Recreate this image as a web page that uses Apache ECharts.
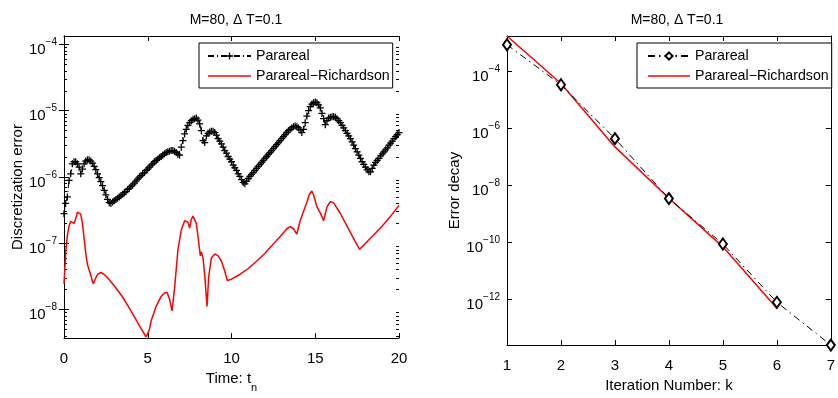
<!DOCTYPE html>
<html><head><meta charset="utf-8">
<script src="https://cdn.jsdelivr.net/npm/echarts@6/dist/echarts.min.js"></script>
<style>html,body{margin:0;padding:0;background:#fff;}#c{width:838px;height:398px;}</style>
</head><body><div id="c"></div>
<script>
// ---------- data ----------
const chartTitle = 'M=80, \u0394 T=0.1';
const seriesNames = ['Parareal', 'Parareal\u2212Richardson'];

// left: time grid t_n (step 0.1)
const time = [
  0,0.1,0.2,0.3,0.4,0.5,0.6,0.7,0.8,0.9,
  1,1.1,1.2,1.3,1.4,1.5,1.6,1.7,1.8,1.9,
  2,2.1,2.2,2.3,2.4,2.5,2.6,2.7,2.8,2.9,
  3,3.1,3.2,3.3,3.4,3.5,3.6,3.7,3.8,3.9,
  4,4.1,4.2,4.3,4.4,4.5,4.6,4.7,4.8,4.9,
  5,5.1,5.2,5.3,5.4,5.5,5.6,5.7,5.8,5.9,
  6,6.1,6.2,6.3,6.4,6.5,6.6,6.7,6.8,6.9,
  7,7.1,7.2,7.3,7.4,7.5,7.6,7.7,7.8,7.9,
  8,8.1,8.2,8.3,8.4,8.5,8.6,8.7,8.8,8.9,
  9,9.1,9.2,9.3,9.4,9.5,9.6,9.7,9.8,9.9,
  10,10.1,10.2,10.3,10.4,10.5,10.6,10.7,10.8,10.9,
  11,11.1,11.2,11.3,11.4,11.5,11.6,11.7,11.8,11.9,
  12,12.1,12.2,12.3,12.4,12.5,12.6,12.7,12.8,12.9,
  13,13.1,13.2,13.3,13.4,13.5,13.6,13.7,13.8,13.9,
  14,14.1,14.2,14.3,14.4,14.5,14.6,14.7,14.8,14.9,
  15,15.1,15.2,15.3,15.4,15.5,15.6,15.7,15.8,15.9,
  16,16.1,16.2,16.3,16.4,16.5,16.6,16.7,16.8,16.9,
  17,17.1,17.2,17.3,17.4,17.5,17.6,17.7,17.8,17.9,
  18,18.1,18.2,18.3,18.4,18.5,18.6,18.7,18.8,18.9,
  19,19.1,19.2,19.3,19.4,19.5,19.6,19.7,19.8,19.9,
  20
];
// left: Parareal discretization error at each t_n
const pararealError = [
  2.8e-7,4.0e-7,5.0e-7,8.9e-7,1.12e-6,1.58e-6,1.70e-6,1.70e-6,1.58e-6,1.41e-6,
  1.12e-6,1.32e-6,1.58e-6,1.74e-6,1.82e-6,1.82e-6,1.74e-6,1.62e-6,1.45e-6,1.29e-6,
  1.12e-6,9.8e-7,8.5e-7,7.4e-7,6.3e-7,5.4e-7,4.6e-7,4.1e-7,4.0e-7,4.2e-7,
  4.4e-7,4.6e-7,4.8e-7,5.0e-7,5.2e-7,5.5e-7,5.8e-7,6.0e-7,6.5e-7,6.8e-7,
  7.2e-7,7.6e-7,8.1e-7,8.7e-7,9.3e-7,1.0e-6,1.05e-6,1.12e-6,1.17e-6,1.26e-6,
  1.32e-6,1.41e-6,1.51e-6,1.58e-6,1.70e-6,1.78e-6,1.86e-6,1.95e-6,2.04e-6,2.14e-6,
  2.24e-6,2.34e-6,2.40e-6,2.45e-6,2.51e-6,2.51e-6,2.45e-6,2.34e-6,2.19e-6,2.14e-6,
  2.82e-6,3.55e-6,4.47e-6,5.25e-6,6.03e-6,6.61e-6,7.08e-6,7.41e-6,7.59e-6,7.76e-6,
  7.24e-6,6.31e-6,5.01e-6,3.55e-6,3.31e-6,4.17e-6,4.57e-6,4.79e-6,4.90e-6,4.90e-6,
  4.68e-6,4.27e-6,3.80e-6,3.47e-6,3.16e-6,2.82e-6,2.51e-6,2.29e-6,2.04e-6,1.86e-6,
  1.70e-6,1.51e-6,1.38e-6,1.26e-6,1.12e-6,1.02e-6,9.1e-7,8.3e-7,7.9e-7,8.7e-7,
  9.5e-7,1.02e-6,1.10e-6,1.17e-6,1.26e-6,1.35e-6,1.45e-6,1.55e-6,1.66e-6,1.78e-6,
  1.91e-6,2.04e-6,2.19e-6,2.34e-6,2.51e-6,2.69e-6,2.88e-6,3.09e-6,3.31e-6,3.55e-6,
  3.80e-6,4.07e-6,4.37e-6,4.68e-6,5.01e-6,5.25e-6,5.50e-6,5.75e-6,5.89e-6,5.75e-6,
  5.50e-6,5.13e-6,4.68e-6,5.25e-6,6.61e-6,8.32e-6,1.0e-5,1.15e-5,1.26e-5,1.32e-5,
  1.35e-5,1.32e-5,1.23e-5,1.10e-5,9.12e-6,7.59e-6,6.17e-6,7.08e-6,7.76e-6,7.94e-6,
  8.13e-6,8.13e-6,7.94e-6,7.59e-6,7.08e-6,6.61e-6,6.03e-6,5.50e-6,5.01e-6,4.57e-6,
  4.17e-6,3.80e-6,3.39e-6,3.02e-6,2.69e-6,2.40e-6,2.14e-6,1.91e-6,1.70e-6,1.55e-6,
  1.41e-6,1.29e-6,1.20e-6,1.20e-6,1.35e-6,1.51e-6,1.66e-6,1.78e-6,1.91e-6,2.09e-6,
  2.24e-6,2.40e-6,2.57e-6,2.75e-6,3.02e-6,3.24e-6,3.47e-6,3.80e-6,4.07e-6,4.37e-6,
  4.68e-6
];
// left: Parareal-Richardson discretization error (read at curve features)
const richTime = [
  0,0.1,0.2,0.3,0.4,0.5,0.6,0.7,0.8,0.9,1.0,1.1,1.2,1.3,1.4,1.5,1.6,1.7,1.75,1.8,1.9,2.0,2.2,2.4,2.6,
  3.0,3.5,4.0,4.5,4.9,5.0,5.1,5.2,5.5,5.8,6.0,6.15,6.3,6.45,6.6,6.8,7.0,7.2,7.3,7.4,7.5,7.6,7.7,7.8,7.9,
  8.0,8.14,8.2,8.3,8.4,8.54,8.64,8.8,9.0,9.2,9.4,9.6,9.75,10.0,10.5,11.0,11.5,12.0,12.5,13.0,13.3,13.5,
  13.7,13.9,14.1,14.3,14.5,14.65,14.8,14.9,15.1,15.3,15.5,15.7,15.9,16.1,16.5,17.0,17.4,17.65,18.0,
  18.5,19.0,19.5,20.0
];
const richError = [
  2.45e-8,7.08e-8,1.32e-7,1.82e-7,2.14e-7,2.29e-7,2.0e-7,2.34e-7,2.95e-7,3.16e-7,2.75e-7,2.0e-7,1.20e-7,
  7.08e-8,4.79e-8,3.98e-8,3.31e-8,2.63e-8,2.45e-8,2.57e-8,3.02e-8,3.39e-8,3.63e-8,3.39e-8,3.02e-8,
  2.29e-8,1.55e-8,9.55e-9,5.75e-9,3.89e-9,3.72e-9,5.01e-9,6.76e-9,1.12e-8,1.58e-8,1.78e-8,1.82e-8,1.45e-8,
  9.55e-9,2.09e-8,7.94e-8,1.58e-7,2.19e-7,2.34e-7,2.09e-7,1.70e-7,2.29e-7,2.57e-7,2.40e-7,2.0e-7,
  1.26e-7,6.46e-8,7.41e-8,6.03e-8,3.31e-8,1.12e-8,3.16e-8,6.03e-8,6.92e-8,6.46e-8,5.37e-8,3.80e-8,2.75e-8,
  2.88e-8,3.39e-8,4.17e-8,5.37e-8,7.08e-8,9.77e-8,1.35e-7,1.66e-7,1.78e-7,
  1.66e-7,1.38e-7,2.19e-7,3.02e-7,4.17e-7,5.50e-7,6.17e-7,5.37e-7,3.55e-7,2.88e-7,2.19e-7,3.55e-7,4.27e-7,
  4.07e-7,2.82e-7,1.62e-7,1.05e-7,8.13e-8,1.0e-7,
  1.35e-7,1.82e-7,2.57e-7,3.72e-7
];
// right: error decay vs iteration number k
const iterations = [1, 2, 3, 4, 5, 6, 7];
const pararealDecay = [8.3e-4, 3.3e-5, 4.27e-7, 3.39e-9, 8.7e-11, 7.9e-13, 2.5e-14];
const richardsonDecay = [1.68e-3, 3.63e-5, 2.19e-7, 3.47e-9, 6.92e-11, 4.9e-13];

// axis ranges and tick values
const leftX = [0, 20, 5];
const leftY = [3.72e-9, 1.34e-4];
const rightX = [1, 7, 1];
const rightY = [2.5e-14, 1.68e-3];
const leftYTicks = [1e-8, 1e-7, 1e-6, 1e-5, 1e-4];
const rightYTicks = [1e-12, 1e-10, 1e-8, 1e-6, 1e-4];
// left log axis minor ticks (MATLAB style 2..9 x 10^n)
const minorFactors = [2, 3, 4, 5, 6, 7, 8, 9];
const minorDecades = [-9, -8, -7, -6, -5, -4];

// ---------- chart ----------
const FONT = '"Liberation Sans", Arial, Helvetica, sans-serif';
const FS = 15;
const LFS = 14.2;
const pairs = (xs, ys) => ys.map((y, i) => [xs[i], y]);

const leftMinor = [];
minorDecades.forEach(d => minorFactors.forEach(f => {
  const v = f * Math.pow(10, d);
  if (v > leftY[0] && v < leftY[1]) leftMinor.push(v);
}));

function logLabel(v) {
  const r = Math.round(Math.log10(v));
  return '{b|10}{s|' + (r < 0 ? '\u2212' : '') + Math.abs(r) + '}';
}
const logRich = {
  b: { fontSize: FS, fontFamily: FONT, color: '#000', lineHeight: 14, padding: [5, 0, 5, 0], verticalAlign: 'top' },
  s: { fontSize: 10, fontFamily: FONT, color: '#000', lineHeight: 10, padding: [0, 0, 14, 0], verticalAlign: 'top' }
};
const axisLineStyle = { show: true, lineStyle: { color: '#000', width: 1 } };
const tickIn = { show: true, inside: true, length: 5, lineStyle: { color: '#000', width: 1 } };

function xAx(grid, rng, pos, withLabel, name, gap, rich) {
  return {
    type: 'value', gridIndex: grid, min: rng[0], max: rng[1], interval: rng[2], position: pos,
    axisLine: axisLineStyle, axisTick: tickIn, splitLine: { show: false },
    axisLabel: { show: withLabel, fontSize: FS, fontFamily: FONT, color: '#000', margin: 13 },
    name: withLabel ? name : '', nameLocation: 'middle', nameGap: gap,
    nameTextStyle: { fontSize: FS, fontFamily: FONT, color: '#000', rich: rich }
  };
}
function yAx(grid, rng, ticks, pos, withLabel, name, gap) {
  return {
    type: 'log', logBase: 10, gridIndex: grid, min: rng[0], max: rng[1], position: pos,
    axisLine: axisLineStyle, splitLine: { show: false }, minorTick: { show: false },
    axisTick: Object.assign({}, tickIn, { customValues: ticks }),
    axisLabel: { show: withLabel, customValues: ticks, formatter: logLabel, rich: logRich, margin: 7 },
    name: withLabel ? name : '', nameLocation: 'middle', nameGap: gap,
    nameTextStyle: { fontSize: FS, fontFamily: FONT, color: '#000' }
  };
}
function yMinor(grid, rng, ticks, pos) {
  return {
    type: 'log', logBase: 10, gridIndex: grid, min: rng[0], max: rng[1], position: pos,
    axisLine: { show: false }, splitLine: { show: false }, minorTick: { show: false },
    axisTick: { show: true, inside: true, length: 3, customValues: ticks, lineStyle: { color: '#000', width: 1 } },
    axisLabel: { show: false }
  };
}
const timeRich = {
  m: { fontSize: FS, fontFamily: FONT, color: '#000', lineHeight: 16, verticalAlign: 'top' },
  n: { fontSize: 11, fontFamily: FONT, color: '#000', lineHeight: 12, padding: [11, 0, 0, 0], verticalAlign: 'top' }
};
const plusSymbol = 'path://M4.1,0H5.9V4.1H10V5.9H5.9V10H4.1V5.9H0V4.1H4.1Z';
const lineIcon = 'path://M0,0H86V3H0Z';

const option = {
  backgroundColor: '#fff',
  animation: false,
  title: [
    { text: chartTitle, left: 231, top: 8, textAlign: 'center', textStyle: { fontSize: 14, fontWeight: 'normal', fontFamily: FONT, color: '#000' } },
    { text: chartTitle, left: 672, top: 8, textAlign: 'center', textStyle: { fontSize: 14, fontWeight: 'normal', fontFamily: FONT, color: '#000' } }
  ],
  grid: [
    { left: 64, top: 36, width: 335, height: 310 },
    { left: 507, top: 36, width: 331, height: 318 }
  ],
  xAxis: [
    xAx(0, leftX, 'bottom', true, '{m|Time: t}{n|n}', 28, timeRich),
    xAx(0, leftX, 'top', false),
    xAx(1, rightX, 'bottom', true, 'Iteration Number: k', 27),
    xAx(1, rightX, 'top', false)
  ],
  yAxis: [
    yAx(0, leftY, leftYTicks, 'left', true, 'Discretization error', 38),
    yAx(0, leftY, leftYTicks, 'right', false),
    yMinor(0, leftY, leftMinor, 'left'),
    yMinor(0, leftY, leftMinor, 'right'),
    yAx(1, rightY, rightYTicks, 'left', true, 'Error decay', 45),
    yAx(1, rightY, rightYTicks, 'right', false)
  ],
  legend: [
    {
      orient: 'vertical', left: 199, top: 43, padding: [6, 3, 5, 8], itemGap: 6,
      itemWidth: 43, itemHeight: 9, borderColor: '#000', borderWidth: 1, backgroundColor: '#fff',
      textStyle: { fontSize: LFS, fontFamily: FONT, color: '#000', lineHeight: 14 },
      data: [seriesNames[0], { name: seriesNames[1], icon: lineIcon }]
    },
    {
      orient: 'vertical', left: 637, top: 43, padding: [6, 3, 5, 10], itemGap: 6,
      itemWidth: 42, itemHeight: 9, borderColor: '#000', borderWidth: 1, backgroundColor: '#fff',
      textStyle: { fontSize: LFS, fontFamily: FONT, color: '#000', lineHeight: 14 },
      formatter: n => n.replace(' (decay)', ''),
      data: [seriesNames[0] + ' (decay)', { name: seriesNames[1] + ' (decay)', icon: lineIcon }]
    }
  ],
  series: [
    {
      name: seriesNames[0], type: 'line', xAxisIndex: 0, yAxisIndex: 0,
      data: pairs(time, pararealError), symbol: plusSymbol, symbolSize: 7, showAllSymbol: true,
      itemStyle: { color: '#000' }, lineStyle: { color: '#000', width: 1, type: [6, 3, 1, 3] }, z: 3
    },
    {
      name: seriesNames[1], type: 'line', xAxisIndex: 0, yAxisIndex: 0,
      data: pairs(richTime, richError), symbol: 'none', showSymbol: false,
      itemStyle: { color: '#ff0000' }, lineStyle: { color: '#ff0000', width: 1.5 }, z: 2
    },
    {
      name: seriesNames[0] + ' (decay)', type: 'line', xAxisIndex: 2, yAxisIndex: 4,
      data: pairs(iterations, pararealDecay), symbol: 'emptyDiamond', symbolSize: [8, 11],
      itemStyle: { color: '#000', borderColor: '#000', borderWidth: 1 },
      lineStyle: { color: '#000', width: 1, type: [7, 4, 1.5, 4] }, z: 3
    },
    {
      name: seriesNames[1] + ' (decay)', type: 'line', xAxisIndex: 2, yAxisIndex: 4,
      data: pairs(iterations, richardsonDecay), symbol: 'none', showSymbol: false,
      itemStyle: { color: '#ff0000' }, lineStyle: { color: '#ff0000', width: 1.5 }, z: 2
    }
  ]
};
const chart = echarts.init(document.getElementById('c'), null, { renderer: 'canvas' });
chart.setOption(option);
</script>
</body></html>
